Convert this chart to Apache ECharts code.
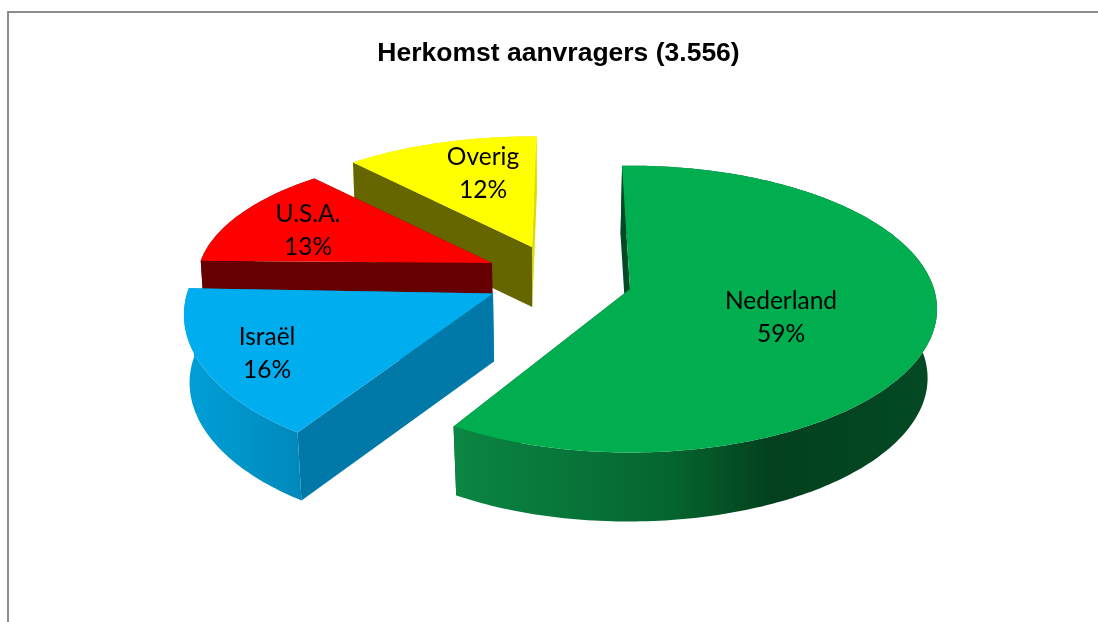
<!DOCTYPE html>
<html>
<head>
<meta charset="utf-8">
<title>Herkomst aanvragers</title>
<script src="https://cdn.jsdelivr.net/npm/echarts@6/dist/echarts.min.js"></script>
<style>
  html, body { margin: 0; padding: 0; background: #fff; }
  #chart { width: 1098px; height: 622px; }
</style>
</head>
<body>
<div id="chart"></div>
<script>
const categories = ['Nederland', 'Israël', 'U.S.A.', 'Overig'];
const shares = [59, 16, 13, 12];

// exploded slices, each with its own place in the 3d view
const apexX = [630, 493, 492, 532];
const apexY = [289, 293.5, 263, 247];
const radiusX = [304, 306, 292, 294];
const radiusY = [140.6, 149, 126, 126];
const turn = [-1.7, 2, 1, 1];
const drop = [69, 68, 55, 60];
const squeeze = [0.975, 0.985, 0.99, 0.99];
const labelX = [781, 267, 308, 483];
const labelY = [317.5, 353.5, 230.5, 174];
const paintOrder = [3, 2, 1, 0];

const topColors = ['#00ae50', '#00aeef', '#ff0000', '#ffff00'];
const cutColors = ['#024a26', '#0079a8', '#660000', '#666600'];
const endColors = ['#024a26', '#0079a8', '#660000', '#dcdc00'];
const wallStops = [
  [[0, '#0b8643'], [0.45, '#05652f'], [0.66, '#03401e'], [1, '#034a24']],
  [[0, '#00a0d8'], [1, '#0089bb']],
  [[0, '#660000'], [1, '#660000']],
  [[0, '#dcdc00'], [1, '#dcdc00']]
];

const perspective = 0.14;
const vanishX = 560;
const total = shares.reduce((a, b) => a + b, 0);

function rimPoint(i, deg) {
  const a = deg * Math.PI / 180;
  const w = 1 + perspective * Math.cos(a);
  return [
    apexX[i] + radiusX[i] * Math.sin(a) / w,
    apexY[i] - radiusY[i] * Math.cos(a) / w
  ];
}

function lower(i, p) {
  return [vanishX + (p[0] - vanishX) * squeeze[i], p[1] + drop[i]];
}

function rim(i, from, to) {
  const pts = [];
  const steps = Math.ceil(Math.abs(to - from));
  for (let s = 0; s <= steps; s++) {
    pts.push(rimPoint(i, from + (to - from) * s / steps));
  }
  return pts;
}

function renderSlice(params, api) {
  const i = params.dataIndex;
  const before = shares.slice(0, i).reduce((a, b) => a + b, 0);
  const from = before / total * 360 + turn[i];
  const to = from + api.value(0) / total * 360;
  const z = paintOrder[i] * 10;

  const arc = rim(i, from, to);
  const apex = [apexX[i], apexY[i]];
  const first = arc[0];
  const last = arc[arc.length - 1];
  const wall = arc.concat(arc.map(p => lower(i, p)).reverse());

  return {
    type: 'group',
    children: [
      {
        type: 'polygon',
        z2: z,
        shape: { points: [apex, last, lower(i, last), lower(i, apex)] },
        style: { fill: endColors[i] }
      },
      {
        type: 'polygon',
        z2: z + 1,
        shape: { points: wall },
        style: { fill: new echarts.graphic.LinearGradient(0, 0, 1, 0, wallStops[i].map(s => ({ offset: s[0], color: s[1] }))) }
      },
      {
        type: 'polygon',
        z2: z + 2,
        shape: { points: [first, apex, lower(i, apex), lower(i, first)] },
        style: { fill: cutColors[i] }
      },
      {
        type: 'polygon',
        z2: z + 3,
        shape: { points: [apex].concat(arc) },
        style: { fill: topColors[i] }
      },
      {
        type: 'text',
        z2: 100,
        x: labelX[i],
        y: labelY[i],
        style: {
          text: categories[i] + '\n' + api.value(0) + '%',
          fill: '#000',
          font: '24.5px Lato',
          lineHeight: 33,
          align: 'center',
          verticalAlign: 'middle'
        }
      }
    ]
  };
}

const chart = echarts.init(document.getElementById('chart'), null, { renderer: 'canvas' });

chart.setOption({
  animation: false,
  backgroundColor: '#fff',
  title: {
    text: 'Herkomst aanvragers (3.556)',
    left: 553.5,
    top: 35.5,
    textAlign: 'center',
    textStyle: { fontFamily: 'Liberation Sans', fontWeight: 'bold', fontSize: 26.5, color: '#000' }
  },
  graphic: [{
    type: 'polyline',
    shape: { points: [[8, 622], [8, 12], [1098, 12]] },
    style: { stroke: '#8c8c8c', lineWidth: 2, fill: null }
  }],
  series: [{
    type: 'custom',
    coordinateSystem: 'none',
    renderItem: renderSlice,
    data: shares.map(v => [v])
  }]
});
</script>
</body>
</html>
